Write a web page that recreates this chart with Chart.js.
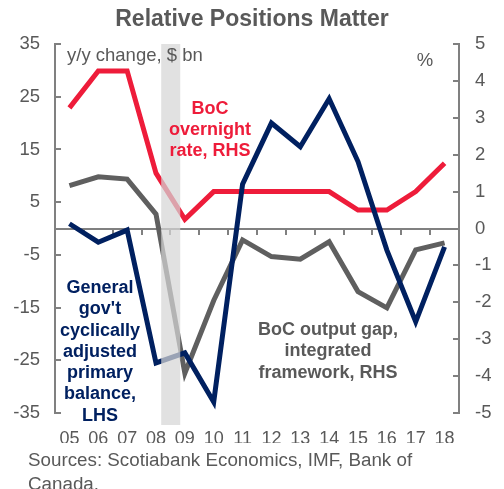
<!DOCTYPE html>
<html>
<head>
<meta charset="utf-8">
<script src="https://cdn.jsdelivr.net/npm/chart.js@4.4.1/dist/chart.umd.min.js"></script>
<style>
  html, body { margin: 0; padding: 0; background: #fff; }
  #wrap { width: 504px; height: 489px; position: relative; }
</style>
</head>
<body>
<div id="wrap"><canvas id="chart"></canvas></div>
<script>
// data
const years = ['05', '06', '07', '08', '09', '10', '11', '12', '13', '14', '15', '16', '17', '18'];
const govBalance = [0.9, -2.6, -0.3, -25.5, -23.6, -32.9, 8.4, 20.0, 15.5, 24.6, 12.7, -4.1, -17.7, -3.5];   // $ bn, LHS
const overnightRate = [3.27, 4.27, 4.27, 1.5, 0.25, 1.0, 1.0, 1.0, 1.0, 1.0, 0.5, 0.5, 1.0, 1.77];          // %, RHS
const outputGap = [1.16, 1.4, 1.34, 0.39, -3.92, -1.95, -0.31, -0.76, -0.83, -0.36, -1.71, -2.15, -0.58, -0.39]; // %, RHS
const leftTicks = [35, 25, 15, 5, -5, -15, -25, -35];
const rightTicks = [5, 4, 3, 2, 1, 0, -1, -2, -3, -4, -5];

const FONT = "'Liberation Sans', Arial, sans-serif";
const TXT = '#595959';
const AXIS = '#808080';
const NAVY = '#002060';
const RED = '#ee1c3a';
const GREY = '#5f5f5f';

const chartDecor = {
  id: 'chartDecor',
  beforeDatasetsDraw(chart) {
    const { ctx, chartArea, scales } = chart;
    const x = scales.x, y = scales.y, y1 = scales.y1;
    ctx.save();
    ctx.strokeStyle = AXIS;
    ctx.lineWidth = 2;
    // zero line with category ticks
    const zy = Math.round(y.getPixelForValue(0));
    ctx.beginPath();
    ctx.moveTo(chartArea.left, zy);
    ctx.lineTo(chartArea.right, zy);
    const step = x.getPixelForValue(1) - x.getPixelForValue(0);
    for (let i = 1; i < years.length; i++) {
      const px = Math.round(x.getPixelForValue(i) - step / 2);
      ctx.moveTo(px, zy);
      ctx.lineTo(px, zy + 6);
    }
    // inward ticks on both value axes
    y.ticks.forEach(t => {
      const py = Math.round(y.getPixelForValue(t.value));
      ctx.moveTo(chartArea.left, py);
      ctx.lineTo(chartArea.left + 6, py);
    });
    y1.ticks.forEach(t => {
      const py = Math.round(y1.getPixelForValue(t.value));
      ctx.moveTo(chartArea.right, py);
      ctx.lineTo(chartArea.right - 6, py);
    });
    ctx.stroke();
    ctx.restore();
  },
  afterDatasetsDraw(chart) {
    const { ctx, chartArea, scales } = chart;
    const x = scales.x;
    const step = x.getPixelForValue(1) - x.getPixelForValue(0);
    const x0 = x.getPixelForValue(3) + 0.18 * step;
    const x1 = x.getPixelForValue(4) - 0.16 * step;
    ctx.save();
    ctx.fillStyle = 'rgba(214,214,214,0.72)';
    ctx.fillRect(x0, chartArea.top, x1 - x0, chartArea.bottom - chartArea.top + 12);
    ctx.restore();
  },
  afterDraw(chart) {
    const { ctx } = chart;
    ctx.save();
    ctx.textBaseline = 'middle';
    // title
    ctx.fillStyle = TXT;
    ctx.font = `bold 23px ${FONT}`;
    ctx.textAlign = 'center';
    ctx.fillText('Relative Positions Matter', 252, 20);
    // axis units
    ctx.font = `18.5px ${FONT}`;
    ctx.textAlign = 'left';
    ctx.fillText('y/y change, $ bn', 67, 56);
    ctx.textAlign = 'center';
    ctx.fillText('%', 425, 61);
    // sources
    ctx.font = `18.8px ${FONT}`;
    ctx.textAlign = 'left';
    ctx.fillText('Sources: Scotiabank Economics, IMF, Bank of', 28, 461);
    ctx.fillText('Canada.', 28, 485);
    // series labels
    ctx.font = `bold 18px ${FONT}`;
    ctx.textAlign = 'center';
    ctx.fillStyle = RED;
    ['BoC', 'overnight', 'rate, RHS'].forEach((s, i) => ctx.fillText(s, 210, 109 + i * 21));
    ctx.fillStyle = NAVY;
    ['General', "gov't", 'cyclically', 'adjusted', 'primary', 'balance,', 'LHS']
      .forEach((s, i) => ctx.fillText(s, 100, 288 + i * 21.3));
    ctx.fillStyle = TXT;
    ['BoC output gap,', 'integrated', 'framework, RHS'].forEach((s, i) => ctx.fillText(s, 328, 330 + i * 21.5));
    ctx.restore();
  }
};

new Chart(document.getElementById('chart'), {
  type: 'line',
  data: {
    labels: years,
    datasets: [
      { label: 'Output gap', data: outputGap, yAxisID: 'y1', borderColor: GREY, order: 3 },
      { label: 'Overnight rate', data: overnightRate, yAxisID: 'y1', borderColor: RED, order: 2 },
      { label: 'Gov balance', data: govBalance, yAxisID: 'y', borderColor: NAVY, order: 1 }
    ]
  },
  options: {
    responsive: true,
    maintainAspectRatio: false,
    animation: false,
    layout: { padding: { top: 44, bottom: 46, left: 0, right: 0 } },
    elements: {
      line: { borderWidth: 5, tension: 0, borderJoinStyle: 'miter', borderCapStyle: 'butt' },
      point: { radius: 0, hoverRadius: 0 }
    },
    plugins: { legend: { display: false }, tooltip: { enabled: false }, title: { display: false } },
    scales: {
      x: {
        offset: true,
        grid: { display: false, drawTicks: false },
        border: { display: false },
        ticks: { color: TXT, font: { family: FONT, size: 18 }, padding: 15, maxRotation: 0, autoSkip: false },
        afterFit(s) { s.height = 30; }
      },
      y: {
        position: 'left',
        min: -35, max: 35,
        afterBuildTicks(s) { s.ticks = leftTicks.map(v => ({ value: v })); },
        grid: { display: false, drawTicks: false },
        border: { display: true, color: AXIS, width: 2 },
        ticks: { color: TXT, font: { family: FONT, size: 18.5 }, padding: 15 },
        afterFit(s) { s.width = 55; }
      },
      y1: {
        position: 'right',
        min: -5, max: 5,
        afterBuildTicks(s) { s.ticks = rightTicks.map(v => ({ value: v })); },
        grid: { display: false, drawTicks: false },
        border: { display: true, color: AXIS, width: 2 },
        ticks: { color: TXT, font: { family: FONT, size: 18.5 }, padding: 16 },
        afterFit(s) { s.width = 45; }
      }
    }
  },
  plugins: [chartDecor]
});
</script>
</body>
</html>
